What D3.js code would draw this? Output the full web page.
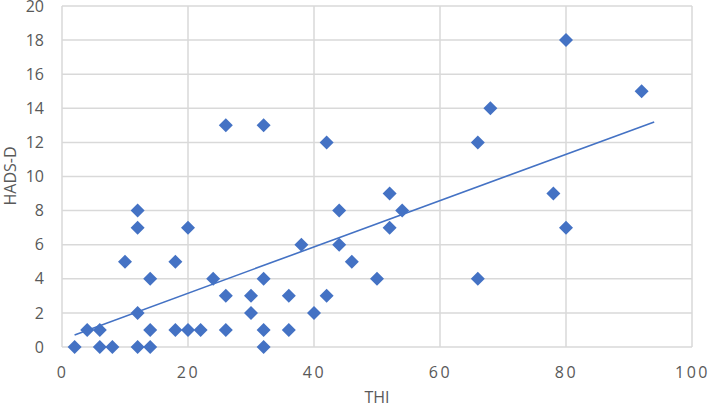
<!DOCTYPE html>
<html>
<head>
<meta charset="utf-8">
<script src="https://cdn.jsdelivr.net/npm/d3@7"></script>
<style>
  html, body { margin: 0; padding: 0; background: #fff; }
  svg { display: block; }
</style>
</head>
<body>
<svg id="chart" width="709" height="408"></svg>
<script>
// THI (x) and HADS-D (y) values per respondent
const thiValues  = [2, 4, 6, 6, 8, 10, 12, 12, 12, 12, 14, 14, 14, 18, 18, 20, 20, 22, 24, 26, 26, 26, 30, 30, 32, 32, 32, 32, 36, 36, 38, 40, 42, 42, 44, 44, 46, 50, 52, 52, 54, 66, 66, 68, 78, 80, 80, 92];
const hadsValues = [0, 1, 1, 0, 0, 5, 8, 7, 2, 0, 4, 1, 0, 5, 1, 7, 1, 1, 4, 13, 3, 1, 3, 2, 13, 4, 1, 0, 3, 1, 6, 2, 12, 3, 8, 6, 5, 4, 9, 7, 8, 12, 4, 14, 9, 18, 7, 15];
const xTicks = [0, 20, 40, 60, 80, 100];
const yTicks = [0, 2, 4, 6, 8, 10, 12, 14, 16, 18, 20];
const xTitle = "THI";
const yTitle = "HADS-D";
const trendRange = [2, 94];

const svg = d3.select("#chart");
const x = d3.scaleLinear().domain([0, 100]).range([62, 692]);
const y = d3.scaleLinear().domain([0, 20]).range([347, 6]);

const gridColor = "#d9d9d9";
const textColor = "#595959";
const blue = "#4472C4";
const font = "'Open Sans', 'Liberation Sans', Arial, sans-serif";

// gridlines
svg.append("g").selectAll("line.h").data(yTicks).join("line")
  .attr("x1", x(0)).attr("x2", x(100))
  .attr("y1", d => y(d)).attr("y2", d => y(d))
  .attr("stroke", gridColor).attr("stroke-width", 1.5);
svg.append("g").selectAll("line.v").data(xTicks).join("line")
  .attr("y1", y(0)).attr("y2", y(20))
  .attr("x1", d => x(d)).attr("x2", d => x(d))
  .attr("stroke", gridColor).attr("stroke-width", 1.5);

// axes (labels only)
const yAxis = d3.axisLeft(y).tickValues(yTicks).tickSize(0).tickPadding(0);
const gy = svg.append("g").attr("transform", `translate(${x(0) - 18},0)`).call(yAxis);
gy.select(".domain").remove();
gy.selectAll("text").attr("fill", textColor).style("font-family", font).style("font-size", "16px");

const xAxis = d3.axisBottom(x).tickValues(xTicks).tickSize(0).tickPadding(0);
const gx = svg.append("g").attr("transform", `translate(0,${y(0) + 20})`).call(xAxis);
gx.select(".domain").remove();
gx.selectAll("text").attr("fill", textColor).style("font-family", font).style("font-size", "16px")
  .style("letter-spacing", "2.5px");

// axis titles
svg.append("text").attr("x", 377).attr("y", 403).attr("text-anchor", "middle")
  .attr("fill", textColor).style("font-family", font).style("font-size", "16px").text(xTitle);
svg.append("text").attr("transform", "translate(16,176) rotate(-90)").attr("text-anchor", "middle")
  .attr("fill", textColor).style("font-family", font).style("font-size", "16px").text(yTitle);

// points
const pts = thiValues.map((v, i) => ({ x: v, y: hadsValues[i] }));
const diamond = "M0,-7L7,0L0,7L-7,0Z";
svg.append("g").selectAll("path").data(pts).join("path")
  .attr("d", diamond)
  .attr("transform", d => `translate(${x(d.x)},${y(d.y)})`)
  .attr("fill", blue);

// linear trendline (least squares)
const mx = d3.mean(thiValues), my = d3.mean(hadsValues);
let sxy = 0, sxx = 0;
pts.forEach(p => { sxy += (p.x - mx) * (p.y - my); sxx += (p.x - mx) ** 2; });
const slope = sxy / sxx, intercept = my - slope * mx;
svg.append("line")
  .attr("x1", x(trendRange[0])).attr("y1", y(intercept + slope * trendRange[0]))
  .attr("x2", x(trendRange[1])).attr("y2", y(intercept + slope * trendRange[1]))
  .attr("stroke", blue).attr("stroke-width", 1.6);
</script>
</body>
</html>
